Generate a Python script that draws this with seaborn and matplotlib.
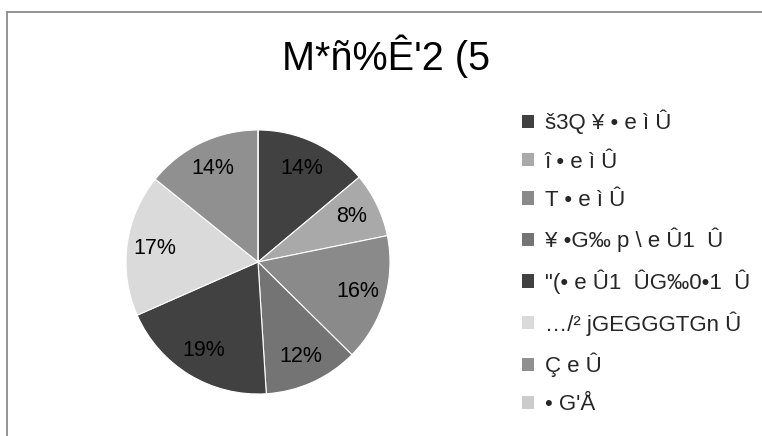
import matplotlib
matplotlib.use("Agg")
import matplotlib.pyplot as plt
import seaborn as sns
from matplotlib.lines import Line2D

sns.set_theme(style="white")
plt.rcParams['font.family'] = ['Liberation Sans', 'DejaVu Sans']

title = "M*ñ%Ê'2 (5"
categories = ["š3Q ¥ • e ì Û", "î • e ì Û", "T • e ì Û", "¥ •G‰ p \\ e Û1  Û",
              "\"(• e Û1  ÛG‰0•1  Û", "…/² jGEGGGTGn Û", "Ç e Û", "• G'Å"]
values = [13.9, 7.9, 15.6, 11.6, 19.4, 17.4, 14.2, 0]
colors = ["#414141", "#a9a9a9", "#8a8a8a", "#747474", "#414141", "#dadada", "#909090", "#cbcbcb"]

W, H = 762, 436
fig = plt.figure(figsize=(W / 100, H / 100), dpi=100)
fig.patch.set_facecolor("white")

cx, cy, r = 258, 262, 132
ax = fig.add_axes([(cx - r) / W, (H - cy - r) / H, 2 * r / W, 2 * r / H])

def fmt(p):
    return "" if p < 0.5 else f"{p:.0f}%"

wedges, texts, autotexts = ax.pie(
    values, colors=colors, startangle=90, counterclock=False,
    autopct=fmt, pctdistance=0.785, radius=1.0,
    wedgeprops=dict(edgecolor="white", linewidth=0.8),
    textprops=dict(fontsize=15.5, color="black"))
ax.set_xlim(-1, 1)
ax.set_ylim(-1, 1)
ax.set_aspect("auto")
ax.axis("off")

fig.text(386 / W, 1 - 56 / H, title, ha="center", va="center", fontsize=28.5, color="black")

leg = fig.legend(wedges, categories, loc="upper left",
                 bbox_to_anchor=(521.5 / W, 1 - 110 / H), frameon=False,
                 fontsize=16, handlelength=0.55, handleheight=0.55,
                 handletextpad=0.5, labelspacing=0.77, borderpad=0, borderaxespad=0)
for h in leg.legend_handles:
    h.set_edgecolor("none")

# clipped chart frame (top and left edges)
fig.add_artist(Line2D([6.5 / W, 1], [1 - 12.5 / H, 1 - 12.5 / H], transform=fig.transFigure,
                      color="#8c8c8c", linewidth=1.3))
fig.add_artist(Line2D([6.5 / W, 6.5 / W], [0, 1 - 12.5 / H], transform=fig.transFigure,
                      color="#8c8c8c", linewidth=1.3))

fig.savefig("out.png", dpi=100, facecolor="white")
